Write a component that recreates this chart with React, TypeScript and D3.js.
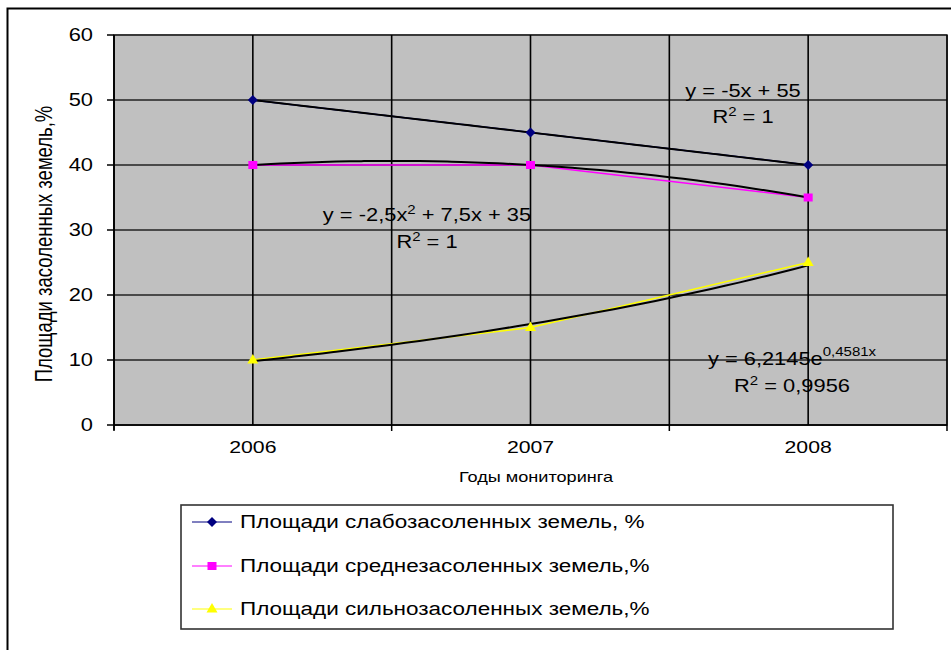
import React from "react";
import * as d3 from "d3";

// values
const years = ["2006", "2007", "2008"];
const weakSaline = [50, 45, 40];
const mediumSaline = [40, 40, 35];
const strongSaline = [10, 15, 25];
const yTicks = [0, 10, 20, 30, 40, 50, 60];

const seriesNames = [
  "Площади слабозасоленных земель, %",
  "Площади среднезасоленных земель,%",
  "Площади сильнозасоленных земель,%",
];

// trendline equations as printed on the chart
const linA = -5, linB = 55;
const polyA = -2.5, polyB = 7.5, polyC = 35;
const expA = 6.2145, expB = 0.4581;

const W = 951;
const H = 650;
const SX = 1.25; // the source picture is stretched horizontally
const FONT = "Arial, 'Liberation Sans', sans-serif";

const plot = { left: 114, right: 947, top: 35, bottom: 425 };

const T = ({ x, y, size, anchor = "start", rotate = false, children }: any) => (
  <text
    transform={`translate(${x},${y}) scale(${SX},1)${rotate ? " rotate(-90)" : ""}`}
    fontSize={size}
    fontFamily={FONT}
    textAnchor={anchor}
    fill="#000"
  >
    {children}
  </text>
);

const Marker = ({ kind, x, y }: any) => {
  if (kind === "diamond") {
    const r = 5;
    return <path d={`M${x},${y - r}L${x + r},${y}L${x},${y + r}L${x - r},${y}Z`} fill="#000080" />;
  }
  if (kind === "square") {
    return <rect x={x - 4.5} y={y - 4} width={9} height={8} fill="#FF00FF" />;
  }
  return <path d={`M${x},${y - 6}L${x + 5.5},${y + 3.5}L${x - 5.5},${y + 3.5}Z`} fill="#FFFF00" />;
};

const App = () => {
  const x = d3.scaleLinear().domain([0.5, 3.5]).range([plot.left, plot.right]);
  const y = d3.scaleLinear().domain([0, 60]).range([plot.bottom, plot.top]);

  const series = [
    { values: weakSaline, color: "#000080", marker: "diamond", width: 1.5 },
    { values: mediumSaline, color: "#FF00FF", marker: "square", width: 1.5 },
    { values: strongSaline, color: "#FFFF00", marker: "triangle", width: 1.5 },
  ];

  const line = d3
    .line<number>()
    .x((_, i) => x(i + 1))
    .y((d) => y(d));

  const trendFns = [
    (t: number) => linA * t + linB,
    (t: number) => polyA * t * t + polyB * t + polyC,
    (t: number) => expA * Math.exp(expB * t),
  ];
  const steps = d3.range(1, 3.0001, 0.05);
  const trendLine = (f: (t: number) => number) =>
    d3
      .line<number>()
      .x((t) => x(t))
      .y((t) => y(f(t)))
      .curve(d3.curveMonotoneX)(steps) as string;

  const vGrid = d3.range(0.5, 3.51, 0.5);
  const catBounds = [0.5, 1.5, 2.5, 3.5];

  const legend = { x: 181, y: 505, w: 712, h: 124 };
  const legendRows = [522, 566, 609];

  return (
    <svg
      width={W}
      height={H}
      style={{ position: "absolute", left: 0, top: 0, background: "#fff" }}
    >
      {/* outer chart frame */}
      <rect x={7.5} y={8.5} width={980} height={700} fill="#fff" stroke="#000" strokeWidth={2} />

      {/* plot area */}
      <rect
        x={plot.left}
        y={plot.top}
        width={plot.right - plot.left}
        height={plot.bottom - plot.top}
        fill="#C0C0C0"
        stroke="#808080"
        strokeWidth={2}
      />
      {yTicks.map((t) => (
        <line key={"h" + t} x1={plot.left} x2={plot.right} y1={y(t)} y2={y(t)} stroke="#222" strokeWidth={1.5} />
      ))}
      {vGrid.map((v) => (
        <line key={"v" + v} x1={x(v)} x2={x(v)} y1={plot.top} y2={plot.bottom} stroke="#000" strokeWidth={1.6} />
      ))}

      {/* axes */}
      <line x1={plot.left} x2={plot.left} y1={plot.top} y2={plot.bottom + 5} stroke="#000" strokeWidth={1.6} />
      <line x1={plot.left} x2={plot.right} y1={plot.bottom} y2={plot.bottom} stroke="#000" strokeWidth={1.6} />
      {yTicks.map((t) => (
        <g key={"yt" + t}>
          <line x1={plot.left - 7} x2={plot.left} y1={y(t)} y2={y(t)} stroke="#000" strokeWidth={1.5} />
          <T x={93} y={y(t) + 6} size={17.5} anchor="end">
            {t}
          </T>
        </g>
      ))}
      {catBounds.map((c) => (
        <line key={"xt" + c} x1={x(c)} x2={x(c)} y1={plot.bottom} y2={plot.bottom + 6} stroke="#000" strokeWidth={1.5} />
      ))}
      {years.map((yr, i) => (
        <T key={yr} x={x(i + 1)} y={453} size={17} anchor="middle">
          {yr}
        </T>
      ))}
      <T x={536} y={482} size={14.5} anchor="middle">
        Годы мониторинга
      </T>
      <T x={52} y={244} size={18.5} anchor="middle" rotate>
        Площади засоленных земель,%
      </T>

      {/* data series */}
      {series.map((s, i) => (
        <path key={"s" + i} d={line(s.values) as string} fill="none" stroke={s.color} strokeWidth={s.width} />
      ))}

      {/* trendlines */}
      {trendFns.map((f, i) => (
        <path key={"tr" + i} d={trendLine(f)} fill="none" stroke="#000" strokeWidth={2} />
      ))}

      {series.map((s, i) =>
        s.values.map((v, j) => <Marker key={`m${i}-${j}`} kind={s.marker} x={x(j + 1)} y={y(v)} />)
      )}

      {/* trendline equations */}
      <T x={743} y={97} size={17.5} anchor="middle">
        y = -5x + 55
      </T>
      <T x={743} y={123} size={17.5} anchor="middle">
        R<tspan dy={-7} fontSize={12}>2</tspan>
        <tspan dy={7}> = 1</tspan>
      </T>
      <T x={427} y={221} size={17.5} anchor="middle">
        y = -2,5x<tspan dy={-7} fontSize={12}>2</tspan>
        <tspan dy={7}> + 7,5x + 35</tspan>
      </T>
      <T x={427} y={248} size={17.5} anchor="middle">
        R<tspan dy={-7} fontSize={12}>2</tspan>
        <tspan dy={7}> = 1</tspan>
      </T>
      <T x={792} y={365} size={17.5} anchor="middle">
        y = 6,2145e<tspan dy={-9} fontSize={12}>0,4581x</tspan>
      </T>
      <T x={792} y={392} size={17.5} anchor="middle">
        R<tspan dy={-7} fontSize={12}>2</tspan>
        <tspan dy={7}> = 0,9956</tspan>
      </T>

      {/* legend */}
      <rect x={legend.x} y={legend.y} width={legend.w} height={legend.h} fill="#fff" stroke="#333" strokeWidth={1.6} />
      {series.map((s, i) => (
        <g key={"lg" + i}>
          <line x1={192} x2={232} y1={legendRows[i]} y2={legendRows[i]} stroke={s.color} strokeWidth={1} />
          <Marker kind={s.marker} x={212} y={legendRows[i]} />
          <T x={240} y={legendRows[i] + 5.5} size={18}>
            {seriesNames[i]}
          </T>
        </g>
      ))}
    </svg>
  );
};

export default App;
